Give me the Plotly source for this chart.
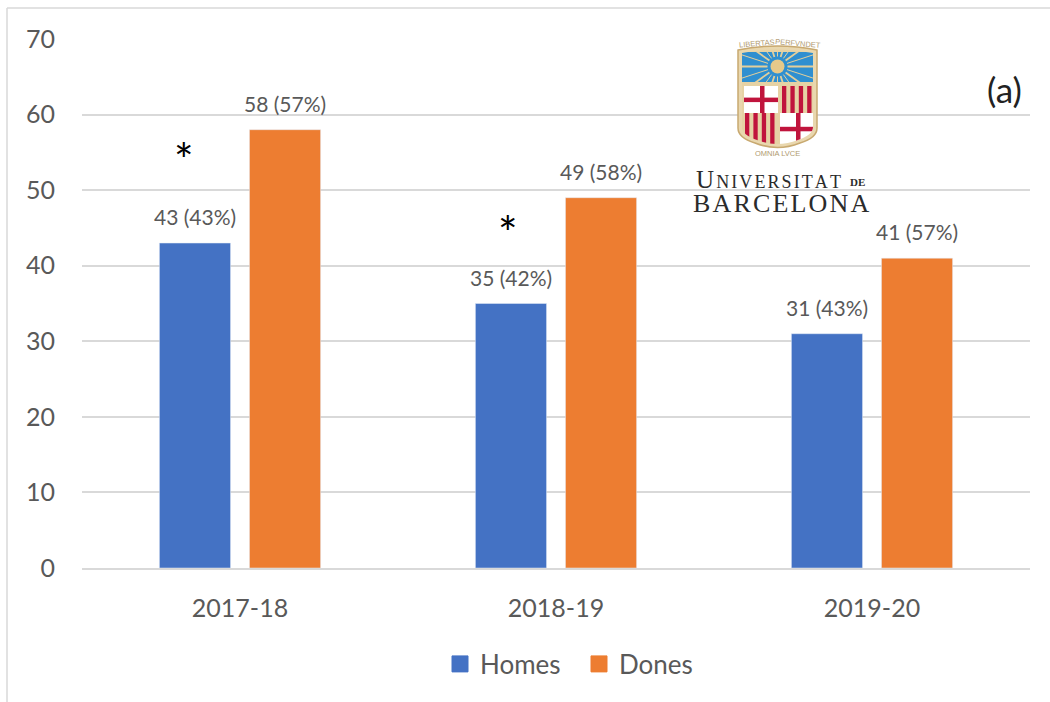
import base64, math
import plotly.graph_objects as go

categories = ["2017-18", "2018-19", "2019-20"]
homes = [43, 35, 31]
dones = [58, 49, 41]
homes_labels = ["43 (43%)", "35 (42%)", "31 (43%)"]
dones_labels = ["58 (57%)", "49 (58%)", "41 (57%)"]
y_ticks = [0, 10, 20, 30, 40, 50, 60, 70]
BLUE = "#4472c4"
ORANGE = "#ed7d31"
GRID = "#d9d9d9"
TEXT = "#595959"
FONT = "Lato"
W, H = 1050, 702
L, R, T, B = 82, 20, 39, 134


def px(x):
    return (x - L) / (W - L - R)


def py(y):
    return 1 - (y - T) / (H - T - B)


# University crest, kept as a decorative picture
rays = ""
for a in range(0, 360, 18):
    c, s = math.cos(math.radians(a)), math.sin(math.radians(a))
    rays += f'<line x1="{47.5+10*c:.1f}" y1="{26.5+10*s:.1f}" x2="{47.5+40*c:.1f}" y2="{26.5+40*s:.1f}" stroke="#e3cf9b" stroke-width="{1.8 if a % 36 == 0 else 1}"/>'
shield = "M8 10 Q47.5 2 87 10 V88 Q87 98 70 103 Q47.5 112 25 103 Q8 98 8 88 Z"
inner = "M12 13 Q47.5 6 83 13 V87 Q83 95 68 100 Q47.5 108 27 100 Q12 95 12 87 Z"
cross = lambda x, y, w, h: (
    f'<rect x="{x}" y="{y}" width="{w}" height="{h}" fill="#fff"/>'
    f'<rect x="{x+w*0.47:.1f}" y="{y}" width="4.5" height="{h}" fill="#c0143c"/>'
    f'<rect x="{x}" y="{y+h*0.43:.1f}" width="{w}" height="4.5" fill="#c0143c"/>'
)
bars = lambda x, y, h, n: "".join(
    f'<rect x="{x+i*8.4:.1f}" y="{y}" width="4.3" height="{h}" fill="#c0143c"/>' for i in range(n)
)
svg = f'''<svg xmlns="http://www.w3.org/2000/svg" width="95" height="120" viewBox="0 0 95 120">
<defs><clipPath id="c"><path d="{inner}"/></clipPath><clipPath id="b"><rect x="12" y="12" width="71" height="30"/></clipPath></defs>
<path d="{shield}" fill="#e9d7ae" stroke="#c8a970" stroke-width="1.5"/>
<path d="{inner}" fill="#e6d2a4"/>
<g clip-path="url(#c)">
<rect x="12" y="12" width="71" height="30" fill="#2f8fd0"/>
<g clip-path="url(#b)">{rays}</g>
<circle cx="47.5" cy="26.5" r="7" fill="#e6c98a"/>
{cross(14, 46, 34, 27)}
{bars(52, 46, 27, 4)}
{bars(15, 73, 34, 4)}
{cross(50, 73, 34, 32)}
</g></svg>'''
logo = "data:image/svg+xml;base64," + base64.b64encode(svg.encode()).decode()

fig = go.Figure()
fig.add_bar(x=categories, y=homes, name="Homes", marker_color=BLUE, showlegend=False)
fig.add_bar(x=categories, y=dones, name="Dones", marker_color=ORANGE, showlegend=False)
for name, color in [("Homes", BLUE), ("Dones", ORANGE)]:
    fig.add_scatter(x=[categories[0]], y=[None], mode="markers", name=name,
                    marker=dict(symbol="square", size=16, color=color, line=dict(width=1, color=color)))

ann = []
for i, cat in enumerate(categories):
    ann.append(dict(x=cat, y=homes[i], text=homes_labels[i], xshift=-45, yshift=12,
                    yanchor="bottom", showarrow=False, font=dict(family=FONT, size=21, color=TEXT)))
    ann.append(dict(x=cat, y=dones[i], text=dones_labels[i], xshift=45, yshift=12,
                    yanchor="bottom", showarrow=False, font=dict(family=FONT, size=21, color=TEXT)))
ann.append(dict(x=categories[0], y=54.1, text="*", xshift=-56, showarrow=False,
                font=dict(family=FONT, size=46, color="#000")))
ann.append(dict(x=categories[1], y=44.35, text="*", xshift=-48, showarrow=False,
                font=dict(family=FONT, size=46, color="#000")))


def paper_text(text, x, y, size, color, family=FONT, variant=None, angle=0, weight=None):
    f = dict(family=family, size=size, color=color)
    if variant:
        f["variant"] = variant
    if weight:
        f["weight"] = weight
    ann.append(dict(xref="paper", yref="paper", x=px(x), y=py(y), text=text, showarrow=False,
                    font=f, textangle=angle, xanchor="center", yanchor="middle"))


paper_text("(a)", 1004, 89, 35, "#222222")
paper_text("U\u200an\u200ai\u200av\u200ae\u200ar\u200as\u200ai\u200at\u200aa\u200at", 768.5, 179, 25, "#2b2b2b",
           family="Liberation Serif", variant="small-caps")
paper_text("DE", 857, 182, 11, "#2b2b2b", family="Liberation Serif", weight=700)
paper_text("B\u200aA\u200aR\u200aC\u200aE\u200aL\u200aO\u200aN\u200aA", 781, 203, 26, "#2b2b2b", family="Liberation Serif")
paper_text("LIBERTAS", 757, 44, 7.5, "#b09a70", family="Liberation Sans", angle=-5)
paper_text("PERFVNDET", 798, 44, 7.5, "#b09a70", family="Liberation Sans", angle=5)
paper_text("OMNIA LVCE", 777, 153, 7.5, "#b09a70", family="Liberation Sans")


def rect(x0, y0, x1, y1):
    return dict(type="rect", xref="paper", yref="paper", x0=px(x0), x1=px(x1), y0=py(y0), y1=py(y1),
                fillcolor="white", line_width=0, layer="between")


def frame(x0, y0, x1, y1):
    return dict(type="line", xref="paper", yref="paper", x0=px(x0), x1=px(x1), y0=py(y0), y1=py(y1),
                line=dict(color="#d9d9d9", width=1.5), layer="below")


fig.update_layout(
    width=W, height=H, margin=dict(l=L, r=R, t=T, b=B, autoexpand=False),
    paper_bgcolor="white", plot_bgcolor="white", showlegend=True,
    barmode="group", bargap=0.43, bargroupgap=0.21,
    font=dict(family=FONT, color=TEXT),
    xaxis=dict(type="category", categoryorder="array", categoryarray=categories, showgrid=False,
               showline=True, linecolor=GRID, linewidth=1.5, ticks="", ticklabelstandoff=17,
               tickfont=dict(family=FONT, size=25, color=TEXT), zeroline=False),
    yaxis=dict(range=[0, 70], tickvals=y_ticks, showgrid=True, gridcolor=GRID, gridwidth=1.5,
               zeroline=False, showline=False, ticks="", ticklabelstandoff=26,
               tickfont=dict(family=FONT, size=25, color=TEXT)),
    legend=dict(orientation="h", xref="paper", yref="paper", x=px(440), y=py(664), xanchor="left", yanchor="middle",
                font=dict(family=FONT, size=26, color=TEXT), bgcolor="rgba(0,0,0,0)",
                entrywidth=94, entrywidthmode="pixels", traceorder="normal"),
    annotations=ann,
    shapes=[rect(683, 25, 873, 215), rect(964, 100, 1035, 130),
            frame(7, 8, 1050, 8), frame(7, 8, 7, 702)],
    images=[dict(source=logo, xref="paper", yref="paper", x=px(730), y=py(40), sizex=95 / (W - L - R),
                 sizey=120 / (H - T - B), xanchor="left", yanchor="top", sizing="stretch", layer="above")],
)
fig.write_html("out.html", config=dict(displayModeBar=False),
               post_script="document.body.style.margin='0';document.body.style.overflow='hidden';")
